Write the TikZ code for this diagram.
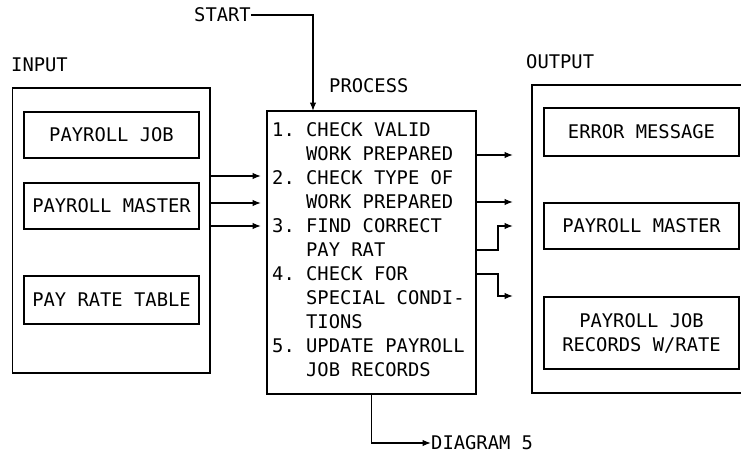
\documentclass[tikz,border=0pt]{standalone}
\usepackage{fontspec}
\setmainfont{DejaVu Sans Mono}
\usetikzlibrary{arrows.meta}
\frenchspacing
\newcommand\hng{\phantom{000}}
\begin{document}
\begin{tikzpicture}[x=1pt,y=-1pt,
  every node/.style={font=\fontsize{18.8}{24}\selectfont},
  frame/.style={draw,line width=1.4pt,inner sep=0pt,minimum width=#1},
  lbl/.style={anchor=west,inner sep=0pt},
  arr/.style={line width=1.3pt,-{Latex[length=8.5pt,width=6.5pt]}}]
\clip (0,0) rectangle (741,455);
\fill[white] (0,0) rectangle (741,455);

% input side
\node[lbl] (inlbl) at (11,65) {INPUT};
\node[frame=197.5pt,minimum height=285pt] (inbox) at (111.25,230.5) {};
\node[frame=175pt,minimum height=46pt] (job) at (111.5,135) {PAYROLL JOB};
\node[frame=175pt,minimum height=46pt] (pm) at (111.5,206) {PAYROLL MASTER};
\node[frame=175pt,minimum height=48pt] (prt) at (111.5,300) {PAY RATE TABLE};

% process
\node[lbl] (proclbl) at (329,86) {PROCESS};
\node[frame=209pt,minimum height=283pt] (proc) at (371.5,252.5) {};
\node[anchor=north west,align=left,inner sep=0pt] (steps) at (272,122) {%
1. CHECK VALID\\
\hng WORK PREPARED\\
2. CHECK TYPE OF\\
\hng WORK PREPARED\\
3. FIND CORRECT\\
\hng PAY RAT\\
4. CHECK FOR\\
\hng SPECIAL CONDI-\\
\hng TIONS\\
5. UPDATE PAYROLL\\
\hng JOB RECORDS};

% output side
\node[lbl] (outlbl) at (526,62) {OUTPUT};
\node[frame=228pt,minimum height=308pt] (outbox) at (646,239) {};
\node[frame=195pt,minimum height=48pt] (err) at (641.5,132) {ERROR MESSAGE};
\node[frame=195pt,minimum height=46pt] (opm) at (641.5,226) {PAYROLL MASTER};
\node[frame=195pt,minimum height=72pt,align=center] (rec) at (641.5,333) {PAYROLL JOB\\RECORDS W/RATE};

% start and exit
\node[lbl] (start) at (194,15) {START};
\node[lbl] (diag) at (431,443) {DIAGRAM 5};
\coordinate (pin) at (313,111);
\coordinate (itip) at (261,0);
\coordinate (otip) at (513,0);
\coordinate (obend) at (498,0);

\draw[arr] (start.east) -| (pin);
\draw[arr] (proc.south) |- (diag.west);

% inputs into the process
\draw[arr] (inbox.east |- 0,176) -- (itip |- 0,176);
\draw[arr] (inbox.east |- 0,203) -- (itip |- 0,203);
\draw[arr] (inbox.east |- 0,226) -- (itip |- 0,226);

% process results
\draw[arr] (proc.east |- 0,155) -- (otip |- 0,155);
\draw[arr] (proc.east |- 0,202) -- (otip |- 0,202);
\draw[arr] (proc.east |- 0,250) -| (obend |- 0,226) -- (otip |- 0,226);
\draw[arr] (proc.east |- 0,274) -| (obend |- 0,296) -- (otip |- 0,296);
\end{tikzpicture}
\end{document}
